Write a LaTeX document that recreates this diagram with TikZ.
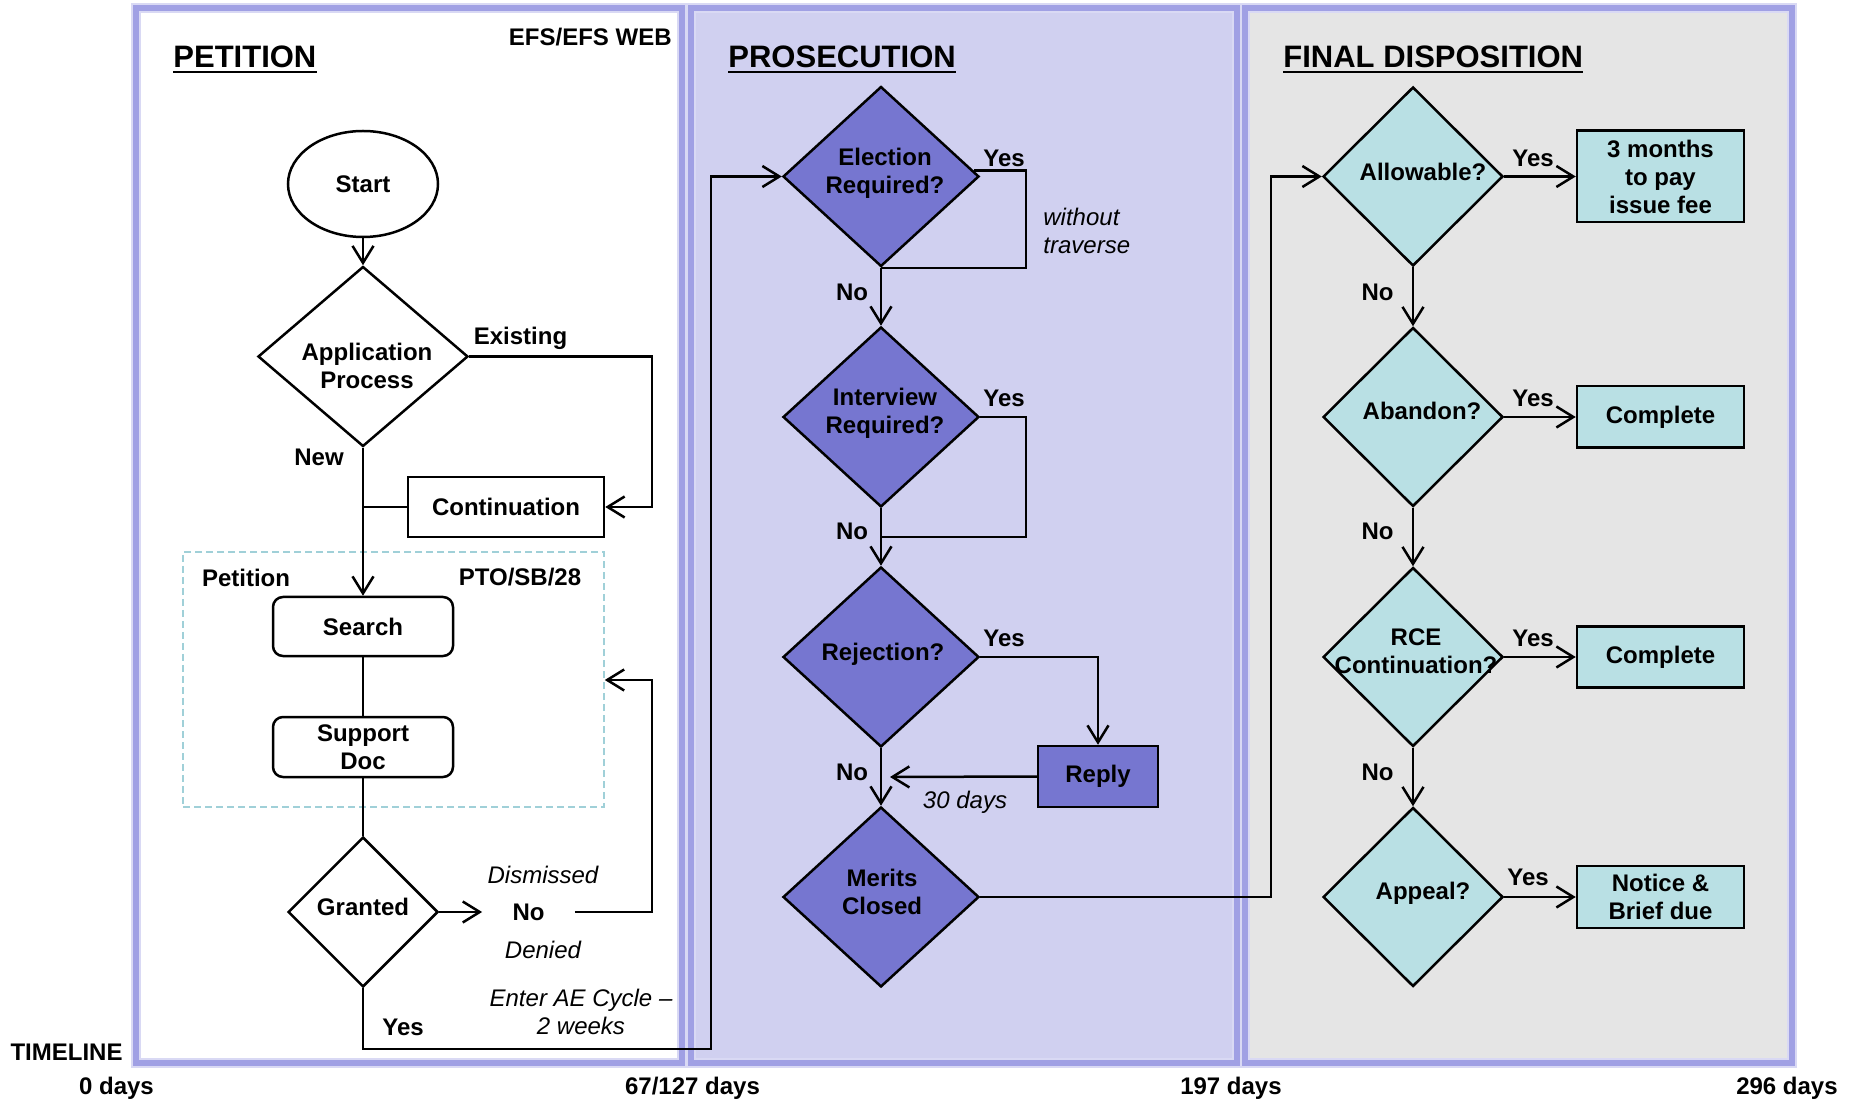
\documentclass[tikz,border=0pt]{standalone}
\usepackage{fontspec}
\setmainfont{Liberation Sans}
\usetikzlibrary{shapes.geometric,arrows.meta}
\definecolor{lav}{RGB}{160,160,228}
\definecolor{prosfill}{RGB}{208,208,240}
\definecolor{finfill}{RGB}{229,229,229}
\definecolor{purp}{RGB}{118,118,208}
\definecolor{cyanf}{RGB}{185,224,228}
\definecolor{dashc}{RGB}{160,208,216}
\begin{document}
\begin{tikzpicture}[x=0.5pt,y=-0.5pt,
  every node/.style={font=\fontsize{12}{14}\selectfont\bfseries, inner sep=0pt},
  line/.style={line width=1.25pt},
  arr/.style={line width=1.25pt,-{Straight Barb[length=8.5pt,width=10.5pt]}},
  dia/.style={shape=diamond, draw, line width=1.25pt, minimum width=98pt, minimum height=90pt},
  boxn/.style={draw, line width=1.25pt, align=center},
  itl/.style={font=\fontsize{12}{14}\selectfont\itshape},
  ttl/.style={font=\fontsize{15.5}{18}\selectfont\bfseries, anchor=base west},
  lbl/.style={align=center}
]
\useasboundingbox (0,0) rectangle (1854,1101);
\fill[white] (0,0) rectangle (1854,1101);
% panels
\foreach \a/\b/\c in {136/682/white, 691/1237/prosfill, 1245/1792/finfill}{
  \fill[\c] (\a,8) rectangle (\b,1063);
  \draw[lav!40, line width=5pt] (\a,8) rectangle (\b,1063);
  \draw[lav, line width=3pt] (\a,8) rectangle (\b,1063);
}
% titles
\node[ttl] (t1) at (173,68) {PETITION};
\node[ttl] (t2) at (728,68) {PROSECUTION};
\node[ttl] (t3) at (1283,68) {FINAL DISPOSITION};
\foreach \t in {t1,t2,t3}{
  \draw[line width=1pt] ([yshift=-2.2pt]\t.base west) -- ([yshift=-2.2pt]\t.base east);
}
\node[anchor=base east] (efs) at (672,46) {EFS/EFS WEB};

% ---------- PETITION ----------
\node[draw=dashc, dash pattern=on 3.5pt off 2pt, line width=0.8pt,
      minimum width=210.5pt, minimum height=127.5pt] (petbox) at (393.5,679.5) {};
\node (petlbl) at (246,577.5) {Petition};
\node (ptolbl) at (520,577.5) {PTO/SB/28};

\node[draw, ellipse, fill=white, line width=1.25pt, minimum width=75pt, minimum height=53pt] (start) at (363,184) {Start};
\node[dia, fill=white, minimum width=105pt, minimum height=90pt,
      label={[lbl,xshift=2pt,yshift=-4.75pt]center:Application\\Process}] (app) at (363,356.5) {};
\node[boxn, fill=white, minimum width=98pt, minimum height=30pt] (cont) at (506,507) {Continuation};
\node[boxn, fill=white, rounded corners=5pt, minimum width=90pt, minimum height=29.5pt] (search) at (363,626.5) {Search};
\node[boxn, fill=white, rounded corners=5pt, minimum width=90pt, minimum height=30pt] (support) at (363,747) {Support\\Doc};
\node[dia, fill=white, minimum width=75pt, minimum height=75pt,
      label={[lbl,yshift=2.6pt]center:Granted}] (granted) at (363,912) {};

\node (existing) at (520.5,338) {Existing};
\node (new) at (319,457) {New};
\node[inner xsep=15pt] (nolbl) at (528.5,912) {No};
\node[itl] (dism) at (543,875) {Dismissed};
\node[itl] (denied) at (543,950) {Denied};
\node[itl, align=center] (aecycle) at (581,1011.8) {Enter AE Cycle –\\2 weeks};
\node (yesp) at (403,1027) {Yes};

\coordinate (ex) at (652,507);
\coordinate (lp) at (652,680);
\coordinate (ge) at (711,1049);
\draw[arr] (start.south) -- (app.north);
\draw[arr] (app.east) -| (ex) -- (cont.east);
\draw[arr] (app.south) -- (search.north);
\draw[line] (cont.west) -- (cont.west -| app.south);
\draw[line] (search.south) -- (support.north);
\draw[line] (support.south) -- (granted.north);
\draw[arr] (granted.east) -- (nolbl.west);
\draw[arr] (nolbl.east) -| (lp) -- (lp -| petbox.east);

% ---------- PROSECUTION ----------
\node[dia, fill=purp, label={[lbl,xshift=2pt,yshift=1.5pt]center:Election\\Required?}] (elect) at (881,176.5) {};
\node[dia, fill=purp, label={[lbl,xshift=2pt,yshift=2pt]center:Interview\\Required?}] (inter) at (881,417) {};
\node[dia, fill=purp, label={[lbl,xshift=1pt,yshift=1.3pt]center:Rejection?}] (rej) at (881,657) {};
\node[dia, fill=purp, label={[lbl,xshift=0.5pt,yshift=2.5pt]center:Merits\\Closed}] (merits) at (881,897) {};
\node[boxn, fill=purp, minimum width=60pt, minimum height=30.5pt] (reply) at (1098,776.5) {Reply};

\node (ey) at (1004,158) {Yes};
\node (iy) at (1004,398) {Yes};
\node (ry) at (1004,638) {Yes};
\node (en) at (852,292) {No};
\node (in) at (852,531) {No};
\node (rn) at (852,772) {No};
\node[itl, align=left, anchor=west] (wt) at (1043,231) {without\\traverse};
\node[itl] (days30) at (965,802) {30 days};

\coordinate (el) at (1026,268);
\coordinate (il) at (1026,537);
\coordinate (rt) at (890,777);
\coordinate (ma) at (1271,897);
\draw[arr] (granted.south) |- (ge) |- (elect.west);
\draw[line] ([xshift=-3pt,yshift=3pt]elect.east) -| (el) -- (el -| elect.south);
\draw[line] (inter.east) -| (il) -- (il -| inter.south);
\draw[arr] (elect.south) -- (inter.north);
\draw[arr] (inter.south) -- (rej.north);
\draw[arr] (rej.south) -- (merits.north);
\draw[arr] (rej.east) -| (reply.north);
\draw[arr] (reply.west) -- (rt);

% ---------- FINAL DISPOSITION ----------
\node[dia, fill=cyanf, minimum width=90pt, minimum height=89.5pt, label={[lbl,xshift=5pt,yshift=2.25pt]center:Allowable?}] (allow) at (1413,176.5) {};
\node[dia, fill=cyanf, minimum width=90pt, minimum height=89.5pt, label={[lbl,xshift=4.5pt,yshift=3pt]center:Abandon?}] (aband) at (1413,417) {};
\node[dia, fill=cyanf, minimum width=90pt, minimum height=89.5pt, label={[lbl,xshift=1.5pt,yshift=3pt]center:RCE\\Continuation?}] (rce) at (1413,657) {};
\node[dia, fill=cyanf, minimum width=90pt, minimum height=89.5pt, label={[lbl,xshift=5pt,yshift=1.8pt]center:Appeal?}] (appeal) at (1413,897) {};
\node[boxn, fill=cyanf, minimum width=83.5pt, minimum height=45.75pt] (fee) at (1660.5,176.5) {3 months\\to pay\\issue fee};
\node[boxn, fill=cyanf, minimum width=83.5pt, minimum height=30.75pt] (comp1) at (1660.5,417) {Complete};
\node[boxn, fill=cyanf, minimum width=83.5pt, minimum height=30.5pt] (comp2) at (1660.5,657) {Complete};
\node[boxn, fill=cyanf, minimum width=83.5pt, minimum height=31pt] (notice) at (1660.5,897) {Notice \&\\Brief due};

\node (ay) at (1533,158) {Yes};
\node (aby) at (1533,398) {Yes};
\node (rcy) at (1533,638) {Yes};
\node (apy) at (1528,877) {Yes};
\node (an) at (1377.5,292) {No};
\node (abn) at (1377.5,531) {No};
\node (rcn) at (1377.5,772) {No};

\draw[arr] (merits.east) -- (ma) |- (allow.west);
\draw[arr] (allow.east) -- (fee.west);
\draw[arr] (aband.east) -- (comp1.west);
\draw[arr] (rce.east) -- (comp2.west);
\draw[arr] (appeal.east) -- (notice.west);
\draw[arr] (allow.south) -- (aband.north);
\draw[arr] (aband.south) -- (rce.north);
\draw[arr] (rce.south) -- (appeal.north);

% ---------- TIMELINE ----------
\node (tl) at (66.5,1052) {TIMELINE};
\node (d0) at (116.5,1088) {0 days};
\node (d1) at (692.5,1088) {67/127 days};
\node (d2) at (1231,1088) {197 days};
\node (d3) at (1787,1088) {296 days};
\end{tikzpicture}
\end{document}
